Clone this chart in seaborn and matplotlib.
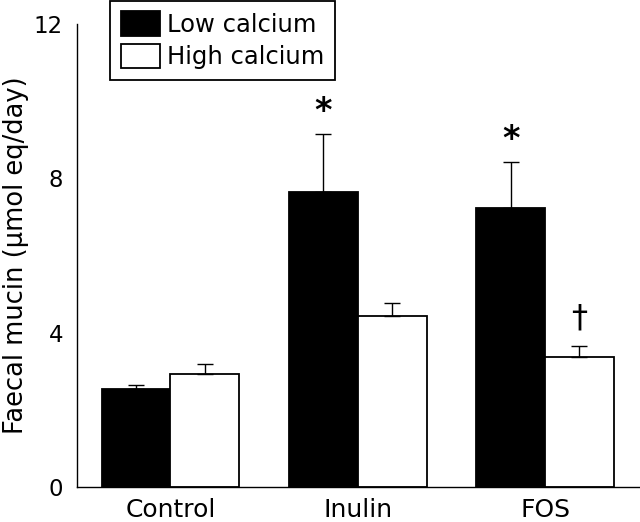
import matplotlib
matplotlib.use('Agg')
import matplotlib.pyplot as plt
from matplotlib.patches import Patch
import seaborn as sns
import pandas as pd

# values (mean + SEM, umol eq/day)
groups = ['Control', 'Inulin', 'FOS']
diets = ['Low calcium', 'High calcium']
low_calcium = [2.54, 7.65, 7.24]
low_sem = [0.10, 1.49, 1.18]
high_calcium = [2.92, 4.44, 3.37]
high_sem = [0.26, 0.34, 0.29]
low_marks = ['', '*', '*']
high_marks = ['', '', '\u2020']
yticks = [0, 4, 8, 12]

df = pd.DataFrame({
    'group': groups * 2,
    'diet': [diets[0]] * 3 + [diets[1]] * 3,
    'mucin': low_calcium + high_calcium,
})

sns.set_style('white')
plt.rcParams['font.family'] = ['DejaVu Sans']
for k in ['text.color', 'axes.labelcolor', 'xtick.color', 'ytick.color']:
    plt.rcParams[k] = 'black'

fig = plt.figure(figsize=(6.4, 5.22), dpi=100)
ax = fig.add_axes([0.12, 0.067, 0.878, 0.887])

sns.barplot(data=df, x='group', y='mucin', hue='diet', hue_order=diets,
            palette=['black', 'white'], edgecolor='black', linewidth=1.3,
            width=0.735, errorbar=None, legend=False, ax=ax)

# error bars (upper only) and significance marks
for container, sem, marks in zip(ax.containers, [low_sem, high_sem], [low_marks, high_marks]):
    xs = [b.get_x() + b.get_width() / 2 for b in container]
    ys = [b.get_height() for b in container]
    ax.errorbar(xs, ys, yerr=[[0] * len(sem), sem], fmt='none', ecolor='black',
                elinewidth=1.0, capsize=5.8, capthick=1.0)
    for x, y, e, m in zip(xs, ys, sem, marks):
        if m == '*':
            ax.text(x, y + e + 0.58, m, ha='center', va='center', fontsize=24,
                    fontweight='bold')
        elif m:
            ax.text(x, y + e + 0.72, m, ha='center', va='center', fontsize=23)

ax.set_xlim(-0.5, 2.5)
ax.set_ylim(0, 12)
ax.set_yticks(yticks)
ax.set_xticks([0.5, 1.5, 2.5], labels=['', '', ''])
ax.set_xticks([0, 1, 2], labels=groups, minor=True)
ax.tick_params(axis='x', which='major', direction='in', length=12.5, width=1.0)
ax.tick_params(axis='x', which='minor', length=0, pad=8, labelsize=18)
ax.tick_params(axis='y', direction='in', length=11.5, width=1.0, pad=10, labelsize=16.5)

for s in ['top', 'right']:
    ax.spines[s].set_visible(False)
for s in ['left', 'bottom']:
    ax.spines[s].set_linewidth(1.0)
    ax.spines[s].set_color('black')

ax.set_xlabel('')
ax.set_ylabel('Faecal mucin (\u00b5mol eq/day)', fontsize=18.5, va='center')
ax.yaxis.set_label_coords(-0.108, 0.5)

handles = [Patch(facecolor=c, edgecolor='black', linewidth=1.3) for c in ['black', 'white']]
ax.legend(handles, diets, loc='upper left', bbox_to_anchor=(110 / 640, 0.999),
          bbox_transform=fig.transFigure, fontsize=17.5, frameon=True, fancybox=False,
          edgecolor='black', framealpha=1, borderaxespad=0, borderpad=0.45,
          handlelength=1.6, handleheight=1.15, handletextpad=0.3, labelspacing=0.3)
ax.get_legend().get_frame().set_linewidth(1.3)

fig.savefig('out.png', dpi=100)
